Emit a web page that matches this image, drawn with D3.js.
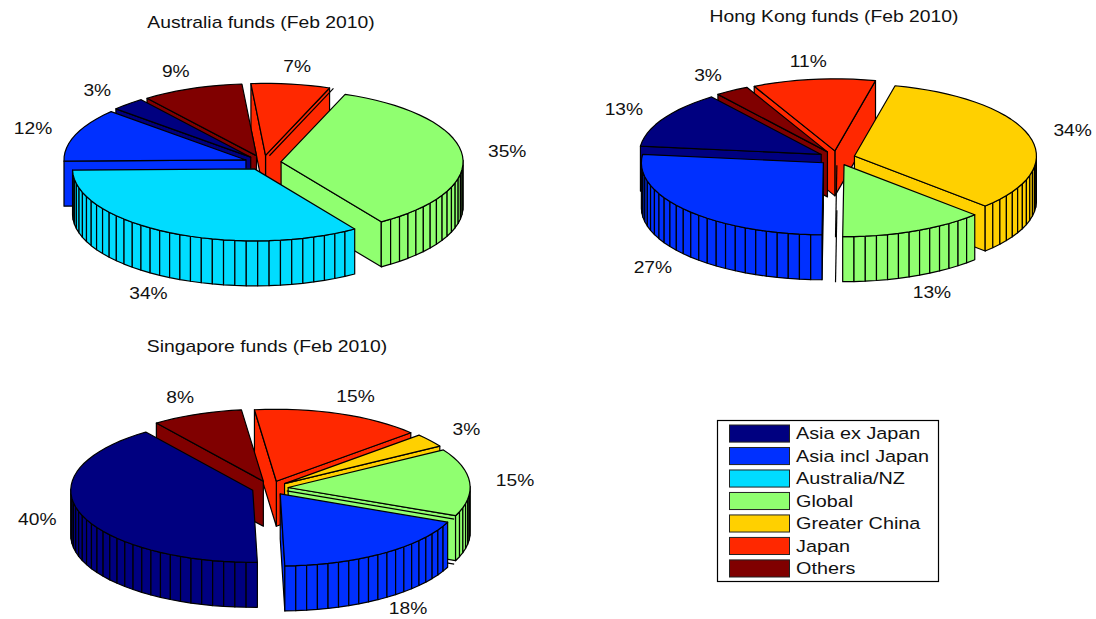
<!DOCTYPE html>
<html>
<head>
<meta charset="utf-8">
<title>Fund allocation by region, Feb 2010</title>
<script src="https://cdn.jsdelivr.net/npm/d3@7"></script>
<style>
  html, body { margin: 0; padding: 0; background: #fff; }
  svg { display: block; }
  text { font-family: "Liberation Sans", Arial, sans-serif; fill: #111; }
</style>
</head>
<body>
<svg id="chart" width="1096" height="619"></svg>
<script>
// Allocation shares in percent, one value per category, in drawing order.
const categories = ["Asia ex Japan", "Asia incl Japan", "Australia/NZ", "Global", "Greater China", "Japan", "Others"];
const australiaFunds = [3, 12, 34, 35, 0, 7, 9];
const hongKongFunds = [13, 27, 0, 13, 34, 11, 3];
const singaporeFunds = [40, 18, 0, 15, 3, 15, 8];
const palette = ["#000080", "#0030ff", "#00dcff", "#90ff70", "#ffd000", "#ff2800", "#800000"];

const svg = d3.select("#chart");
const colour = d3.scaleOrdinal(categories, palette);

// Text runs wide in this layout, so every label is stretched horizontally.
const TEXT_STRETCH = 1.2;
function wideText(parent, x, y, str, size, anchor) {
  return parent.append("text")
    .attr("transform", `translate(${x},${y}) scale(${TEXT_STRETCH},1)`)
    .attr("text-anchor", anchor)
    .attr("dominant-baseline", "central")
    .attr("font-size", size)
    .text(str);
}

// Draws one exploded, extruded pie seen from above.
function drawPie(title, values, opt) {
  const { cx, cy, startDeg, titleX, titleY } = opt;
  const rx = 182, ry = 72, depth = 45, explode = 0.1, labelRadius = 1.35;
  const g = svg.append("g");
  const px = d3.scaleLinear().domain([-1, 1]).range([cx - rx, cx + rx]);
  const py = d3.scaleLinear().domain([-1, 1]).range([cy + ry, cy - ry]);
  const line = d3.line();

  const total = d3.sum(values);
  const arcs = d3.pie().sort(null).value(d => d)(values).map((a, i) => {
    const a0 = a.startAngle + startDeg * Math.PI / 180;
    const a1 = a.endAngle + startDeg * Math.PI / 180;
    const mid = (a0 + a1) / 2;
    return { i, a0, a1, mid, value: values[i], frac: values[i] / total,
             ox: explode * Math.cos(mid), oy: explode * Math.sin(mid) };
  });

  // Back slices first; an empty slice follows its counter-clockwise neighbour.
  const filled = arcs.filter(s => s.value > 0).sort((p, q) => Math.sin(q.mid) - Math.sin(p.mid));
  const order = [];
  filled.forEach(s => {
    order.push(s);
    arcs.filter(z => z.value === 0 && arcs[(z.i + 1) % arcs.length] === s).forEach(z => order.push(z));
  });

  order.forEach(s => {
    const fill = colour(categories[s.i]);
    const apex = [px(s.ox), py(s.oy)];
    const rim = ang => [px(s.ox + Math.cos(ang)), py(s.oy + Math.sin(ang))];
    const low = p => [p[0], p[1] + depth];
    const face = (pts, f) => g.append("path").attr("d", line(pts) + "Z")
      .attr("fill", f).attr("stroke", "#000").attr("stroke-width", 1.2).attr("stroke-linejoin", "round");

    if (s.value === 0) {
      // A zero share collapses to its two radial edges.
      const edge = rim(s.a0);
      [[apex, edge], [low(apex), low(edge)]].forEach(seg =>
        g.append("path").attr("d", line(seg)).attr("fill", "none")
          .attr("stroke", "#000").attr("stroke-width", 1.2));
      return;
    }

    // Radial side walls facing the viewer.
    if (Math.cos(s.a0) > 0) face([apex, rim(s.a0), low(rim(s.a0)), low(apex)], fill);
    if (Math.cos(s.a1) < 0) face([apex, rim(s.a1), low(rim(s.a1)), low(apex)], fill);

    // Rim facets: one per percentage point of the slice.
    const n = Math.max(1, Math.ceil(100 * s.frac));
    const angles = d3.range(n + 1).map(k => s.a0 + (s.a1 - s.a0) * k / n);
    d3.pairs(angles).forEach(([p, q]) => {
      if (Math.sin((p + q) / 2) < 0) face([rim(p), rim(q), low(rim(q)), low(rim(p))], fill);
    });

    // Top surface.
    face([apex, ...angles.map(rim)], fill);
  });

  // Percentage labels sit outside the rim, lower for slices on the near side.
  arcs.filter(s => s.value > 0).forEach(s => {
    const sin = Math.sin(s.mid);
    const x = px(labelRadius * Math.cos(s.mid));
    const y = Math.min(py(labelRadius * sin) + (sin < -0.5 ? depth : 0), 609);
    wideText(svg, x, y, `${s.value}%`, 16, "middle");
  });

  wideText(svg, titleX, titleY, title, 16.1, "middle");
}

drawPie("Australia funds (Feb 2010)", australiaFunds, { cx: 263, cy: 162.5, startDeg: 127, titleX: 261, titleY: 23 });
drawPie("Hong Kong funds (Feb 2010)", hongKongFunds, { cx: 837, cy: 158, startDeg: 127, titleX: 834, titleY: 17 });
drawPie("Singapore funds (Feb 2010)", singaporeFunds, { cx: 270, cy: 488, startDeg: 126, titleX: 267, titleY: 347 });

// Legend box with one swatch and name per category.
const legend = svg.append("g");
legend.append("rect").attr("x", 717.5).attr("y", 420.5).attr("width", 221).attr("height", 161)
  .attr("fill", "#fff").attr("stroke", "#000").attr("stroke-width", 1.2);
const rows = d3.scaleBand().domain(categories).range([425, 577]).paddingInner(0.24).paddingOuter(0);
categories.forEach(name => {
  legend.append("rect").attr("x", 729.5).attr("y", rows(name)).attr("width", 60).attr("height", rows.bandwidth())
    .attr("fill", colour(name)).attr("stroke", "#222").attr("stroke-width", 1);
  wideText(legend, 796, rows(name) + rows.bandwidth() / 2 + 0.5, name, 16.5, "start");
});
</script>
</body>
</html>
